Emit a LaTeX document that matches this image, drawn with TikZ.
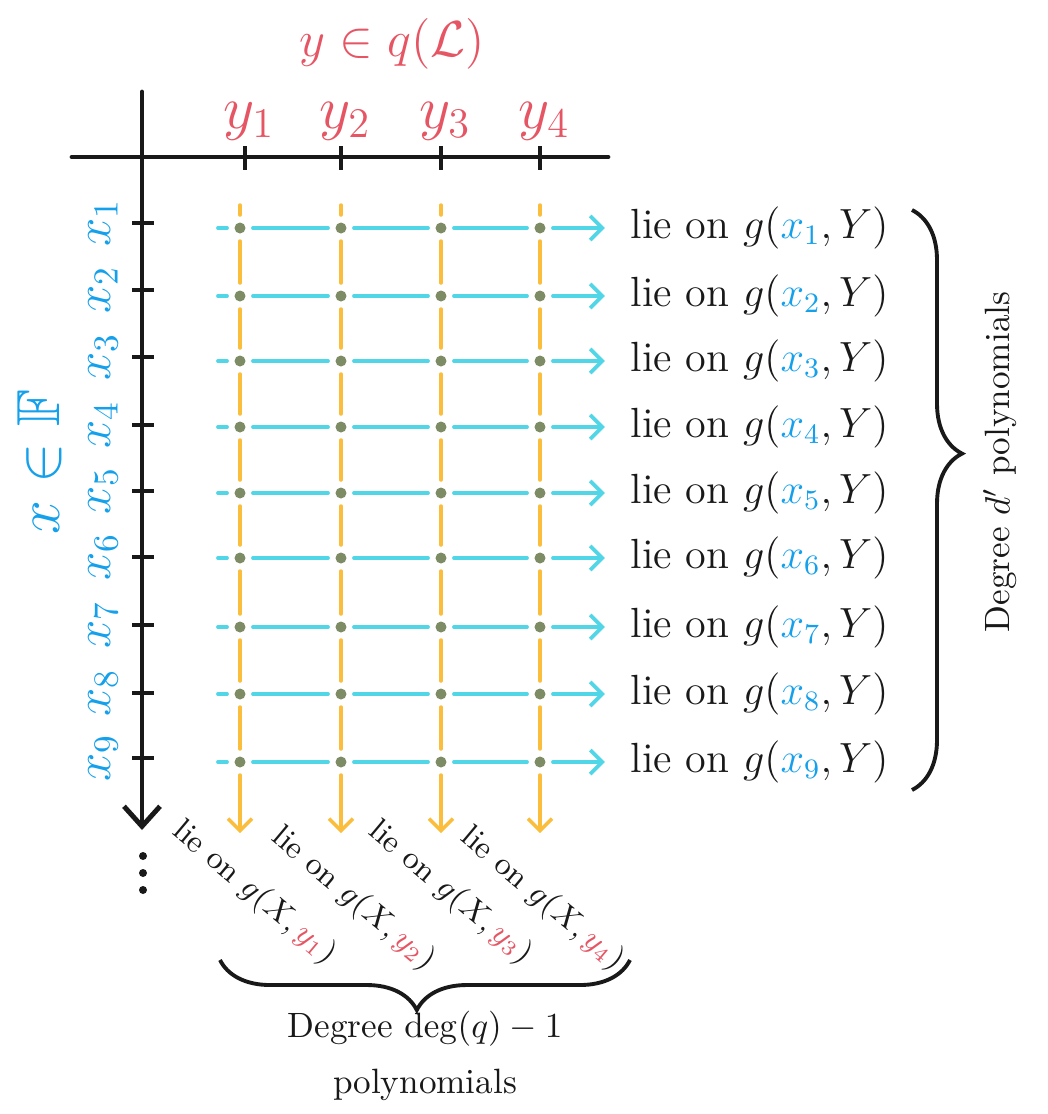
\documentclass[tikz,border=0pt]{standalone}
\usepackage{amsmath,amssymb}
\usepackage{xcolor}
\usepackage{tikz}
\usetikzlibrary{arrows.meta,positioning,decorations.pathreplacing,calc}
\definecolor{linhaAzul}{RGB}{80,214,230}
\definecolor{linhaLaranja}{RGB}{250,190,60}
\definecolor{pontoVerde}{RGB}{125,140,100}
\definecolor{textoVermelho}{RGB}{230,85,100}
\definecolor{textoAzul}{RGB}{20,160,235}
\definecolor{tinta}{RGB}{25,25,25}
\tikzset{
    eixo/.style={
        draw=tinta,
        line width=1.4pt,
        line cap=round
    },
    eixoSeta/.style={eixo, -{Straight Barb[length=2mm, width=3.6mm, line width=1.4pt]}},
    marca/.style={draw=tinta, line width=1.4pt},
    ponto/.style={
        circle,
        fill=pontoVerde,
        inner sep=0pt,
        minimum size=1.1mm,
        outer sep=0.75mm
    },
    reticencia/.style={circle, fill=tinta, inner sep=0pt, minimum size=0.8mm},
    linha/.style={draw=linhaAzul, line width=1.1pt, line cap=round},
    linhaSeta/.style={linha, -{Straight Barb[length=1.2mm, width=2.4mm]}, shorten >=2.5mm},
    coluna/.style={draw=linhaLaranja, line width=1pt, line cap=round},
    colunaSeta/.style={coluna, -{Straight Barb[length=1.2mm, width=2.4mm]}},
    rotulo/.style={text=tinta, font=\large, anchor=west, inner sep=0pt},
    rotuloBaixo/.style={text=tinta, font=\small, rotate=-40, inner sep=0pt},
    rotuloX/.style={text=textoAzul, font=\Large, rotate=90, inner sep=0pt},
    rotuloY/.style={text=textoVermelho, font=\LARGE, inner sep=0pt},
    chave/.style={
        draw=tinta,
        line width=1.1pt,
        decorate,
        decoration={brace, amplitude=5mm}
    },
    textoChave/.style={text=tinta, align=center, font=\fontsize{10}{16}\selectfont}
}

\begin{document}
\begin{tikzpicture}[x=0.01cm, y=-0.01cm]
    \useasboundingbox (0,0) rectangle (1047,1114);

    % eixos
    \coordinate (topo) at (142,92);
    \coordinate (fundo) at (142,830);
    \coordinate (esq) at (72,157);
    \coordinate (dir) at (608,157);
    \draw[eixoSeta] (topo) -- (fundo);
    \draw[eixo] (esq) -- (dir);
    \foreach \k/\dy in {1/856, 2/873, 3/890}
        \node[reticencia] (ret-\k) at (143,\dy) {};

    \node[rotuloY, font=\Large] (titulo) at (392,44) {$y \in q(\mathcal{L})$};
    \node[text=textoAzul, font=\LARGE, rotate=90, inner sep=0pt] (campo) at (40,462)
        {$x \in \mathbb{F}$};

    % pontos da grade
    \foreach \i/\ry in {1/228, 2/296, 3/361, 4/427, 5/493, 6/558, 7/627, 8/694, 9/762}
        \foreach \j/\cx in {1/240, 2/341, 3/441, 4/540}
            \node[ponto] (p-\i-\j) at (\cx,\ry) {};

    % linhas x_i
    \foreach \i/\ty/\ry in {1/223/228, 2/290/296, 3/357/361, 4/425/427, 5/491/493,
                            6/557/558, 7/625/627, 8/693/694, 9/758/762} {
        \draw[marca] (132,\ty) -- (154,\ty);
        \node[rotuloX] (x-\i) at (103,\ty) {$x_{\i}$};
        \coordinate (ini-\i) at (218,\ry);
        \node[rotulo] (rot-\i) at (630,\ry)
            {lie on $g(\textcolor{textoAzul}{x_{\i}}, Y)$};
        \draw[linha] (ini-\i) -- (p-\i-1);
        \draw[linha] (p-\i-1) -- (p-\i-2);
        \draw[linha] (p-\i-2) -- (p-\i-3);
        \draw[linha] (p-\i-3) -- (p-\i-4);
        \draw[linhaSeta] (p-\i-4) -- (rot-\i);
    }

    % colunas y_j
    \foreach \j/\cx/\tx/\lx/\ly in {1/240/245/254/893, 2/341/341/353/899,
                                  3/441/441/450/893, 4/540/540/542/899} {
        \draw[marca] (\tx,146) -- (\tx,170);
        \node[rotuloY] (y-\j) at (\tx+4,121) {$y_{\j}$};
        \coordinate (cini-\j) at (\cx,205);
        \coordinate (cfim-\j) at (\cx,833);
        \draw[coluna] (cini-\j) -- (p-1-\j);
        \foreach \i in {1,...,8} {
            \pgfmathtruncatemacro{\k}{\i+1}
            \draw[coluna] (p-\i-\j) -- (p-\k-\j);
        }
        \draw[colunaSeta] (p-9-\j) -- (cfim-\j);
        \node[rotuloBaixo] (rb-\j) at (\lx,\ly)
            {lie on $g(X, \textcolor{textoVermelho}{y_{\j}})$};
    }

    % chaves
    \coordinate (chaveTopo) at (912,210);
    \coordinate (chaveBase) at (912,790);
    \draw[chave, decoration={aspect=0.42}] (chaveTopo) -- (chaveBase);
    \node[textoChave, rotate=90] (grauD) at (1000,462) {Degree $d'$ polynomials};

    \coordinate (chaveDir) at (630,960);
    \coordinate (chaveEsq) at (220,960);
    \draw[chave, decoration={aspect=0.52}] (chaveDir) -- (chaveEsq);
    \node[textoChave] (grauQ) at (425,1056) {Degree $\deg(q)-1$\\polynomials};
\end{tikzpicture}
\end{document}
